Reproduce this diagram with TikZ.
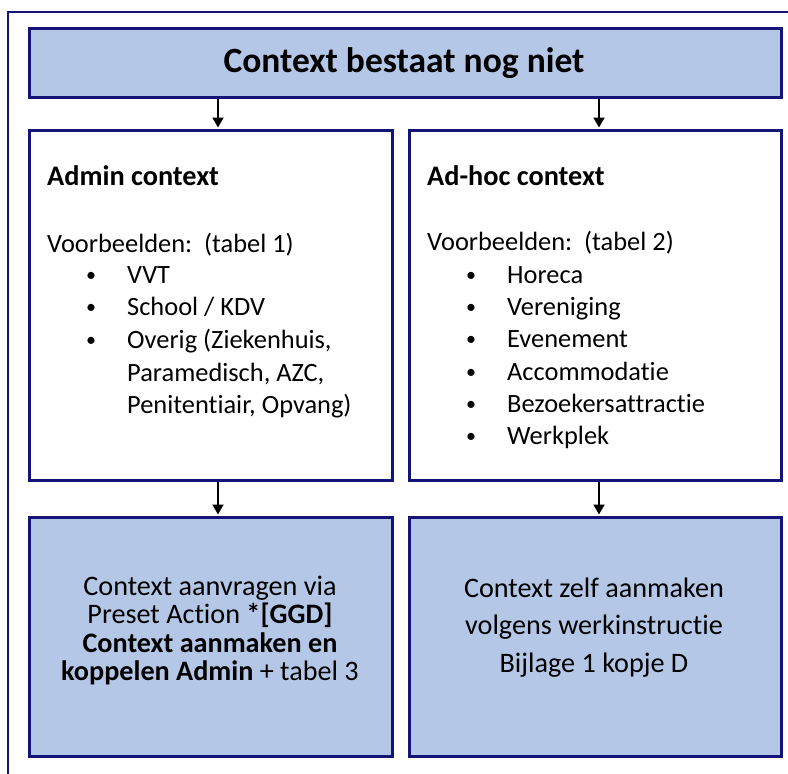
\documentclass[tikz,border=0pt]{standalone}
\usepackage{fontspec}
\setmainfont{Carlito}[Ligatures=NoCommon]
\usetikzlibrary{arrows.meta}
\definecolor{navy}{HTML}{141478}
\definecolor{fillblue}{HTML}{B4C7E7}
\tikzset{
  box/.style={draw=navy, line width=3pt, rectangle, inner sep=0pt, anchor=north west},
  bluebox/.style={box, fill=fillblue},
  whitebox/.style={box, fill=white},
  arr/.style={-{Triangle[width=11pt,length=10pt]}, line width=2pt, black},
  txt/.style={inner sep=0pt, anchor=base west, font=\fontsize{26.4}{30}\selectfont},
  hd/.style={txt, font=\fontsize{28.3}{32}\selectfont\bfseries},
  bul/.style={inner sep=0pt, anchor=base, font=\fontsize{20}{24}\selectfont},
  ctr/.style={inner sep=0pt, anchor=base, font=\fontsize{28.2}{32}\selectfont},
}
\begin{document}
\begin{tikzpicture}[x=1pt, y=-1pt]
\useasboundingbox (0,0) rectangle (788,774);
\clip (0,0) rectangle (788,774);
\fill[white] (0,0) rectangle (788,774);
% outer frame (cropped on the right and bottom)
\draw[navy, line width=2pt] (8,12) rectangle (820,800);
% boxes
\node[bluebox, minimum width=752pt, minimum height=69pt] (top) at (28,27) {};
\node[whitebox, minimum width=363pt, minimum height=350pt] (adm) at (28,129) {};
\node[whitebox, minimum width=372pt, minimum height=350pt] (adh) at (408,129) {};
\node[bluebox, minimum width=363pt, minimum height=239pt] (admb) at (28,516) {};
\node[bluebox, minimum width=372pt, minimum height=239pt] (adhb) at (408,516) {};
% title
\node[inner sep=0pt, anchor=base, font=\fontsize{35.5}{40}\selectfont\bfseries] (title) at (404,72) {Context bestaat nog niet};
% arrows
\coordinate (cl) at (218,0);
\coordinate (cr) at (599,0);
\draw[arr] (top.south -| cl) -- ([yshift=1.5pt]adm.north -| cl);
\draw[arr] (top.south -| cr) -- ([yshift=1.5pt]adh.north -| cr);
\draw[arr] (adm.south -| cl) -- ([yshift=1.5pt]admb.north -| cl);
\draw[arr] (adh.south -| cr) -- ([yshift=1.5pt]adhb.north -| cr);
% admin context text
\node[hd] (h1) at (47,185) {Admin context};
\node[txt] (v1) at (47,252) {Voorbeelden:\ \ (tabel 1)};
\node[bul] (b11) at (91,281) {•};
\node[txt] (i11) at (127,283) {VVT};
\node[bul] (b12) at (91,313) {•};
\node[txt] (i12) at (127,315) {School / KDV};
\node[bul] (b13) at (91,346) {•};
\node[txt] (i13) at (127,348) {Overig (Ziekenhuis,};
\node[txt] (i14) at (127,381) {Paramedisch, AZC,};
\node[txt] (i15) at (127,413) {Penitentiair, Opvang)};
% ad-hoc context text
\node[hd] (h2) at (427,185) {Ad-hoc context};
\node[txt] (v2) at (427,250) {Voorbeelden:\ \ (tabel 2)};
\node[bul] (b21) at (471,281) {•};
\node[txt] (i21) at (507,283) {Horeca};
\node[bul] (b22) at (471,313) {•};
\node[txt] (i22) at (507,315) {Vereniging};
\node[bul] (b23) at (471,345) {•};
\node[txt] (i23) at (507,347) {Evenement};
\node[bul] (b24) at (471,378) {•};
\node[txt] (i24) at (507,380) {Accommodatie};
\node[bul] (b25) at (471,410) {•};
\node[txt] (i25) at (507,412) {Bezoekersattractie};
\node[bul] (b26) at (471,442) {•};
\node[txt] (i26) at (507,444) {Werkplek};
% bottom left text
\node[ctr] (l1) at (210,595) {Context aanvragen via};
\node[ctr] (l2) at (210,623) {Preset Action \textbf{*[GGD]}};
\node[ctr] (l3) at (210,652) {\textbf{Context aanmaken en}};
\node[ctr] (l4) at (210,680) {\textbf{koppelen Admin} + tabel 3};
% bottom right text
\node[ctr] (r1) at (594,597) {Context zelf aanmaken};
\node[ctr] (r2) at (594,634) {volgens werkinstructie};
\node[ctr] (r3) at (594,672) {Bijlage 1 kopje D};
\end{tikzpicture}
\end{document}
